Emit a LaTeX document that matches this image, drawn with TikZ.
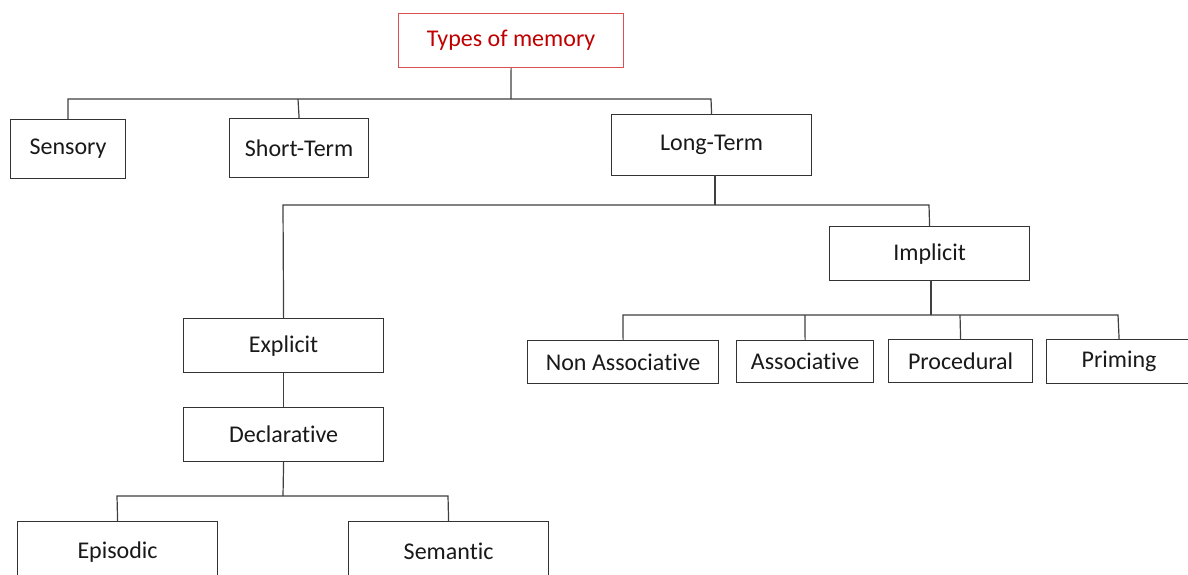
\documentclass[tikz,border=0pt]{standalone}
\usepackage{fontspec}
\setmainfont{Carlito}[RawFeature={-liga}]
\begin{document}
\begin{tikzpicture}[x=1pt,y=-1pt,
  box/.style={draw=black!80,line width=1.2pt,fill=white,inner sep=0pt,anchor=north west,font=\fontsize{24}{28}\selectfont,text=black!90},
  redbox/.style={box,draw={rgb,255:red,220;green,80;blue,80},text={rgb,255:red,192;green,0;blue,0}},
  link/.style={draw=black!75,line width=1.2pt}]
\useasboundingbox (0,0) rectangle (1188,574);
\clip (0,0) rectangle (1188,574);
\fill[white] (0,0) rectangle (1188,574);
\node[redbox,minimum width=225pt,minimum height=54pt] (types) at (398,13) {Types of memory};
\node[box,minimum width=115pt,minimum height=59pt] (sens) at (10,119) {Sensory};
\node[box,minimum width=139pt,minimum height=59pt] (short) at (229,118) {Short-Term};
\node[box,minimum width=200pt,minimum height=61pt] (long) at (611,114) {Long-Term};
\node[box,minimum width=200pt,minimum height=54pt] (impl) at (829,226) {Implicit};
\node[box,minimum width=200pt,minimum height=54pt] (expl) at (183,318) {Explicit};
\node[box,minimum width=200pt,minimum height=54pt] (decl) at (183,407) {Declarative};
\node[box,minimum width=200pt,minimum height=60pt] (epi) at (17,521) {Episodic};
\node[box,minimum width=200pt,minimum height=60pt] (sem) at (348,521) {Semantic};
\node[box,minimum width=191pt,minimum height=43pt] (nonas) at (527,340) {Non Associative};
\node[box,minimum width=137pt,minimum height=42pt] (assoc) at (736,340) {Associative};
\node[box,minimum width=144pt,minimum height=43pt] (proc) at (888,339) {Procedural};
\node[box,minimum width=145pt,minimum height=44pt] (prim) at (1046,339) {Priming};
% top level
\coordinate (b1) at (511,99);
\draw[link] (types.south) -- (b1);
\draw[link] (sens.north) -- (68,99) -- (711,99) -- (long.north);
\draw[link] (short.north) -- (298,99);
% long-term
\coordinate (b2) at (715,205);
\draw[link] (715,175) -- (b2);
\draw[link] (expl.north) -- (283,205) -- (929,205) -- (impl.north);
% explicit
\draw[link] (expl.south) -- (decl.north);
\draw[link] (decl.south) -- (283,496);
\draw[link] (epi.north) -- (117,496) -- (448,496) -- (sem.north);
% implicit
\draw[link] (931,280) -- (931,315);
\draw[link] (nonas.north) -- (623,315) -- (1118,315) -- (prim.north);
\draw[link] (assoc.north) -- (805,315);
\draw[link] (proc.north) -- (960,315);
\end{tikzpicture}
\end{document}
